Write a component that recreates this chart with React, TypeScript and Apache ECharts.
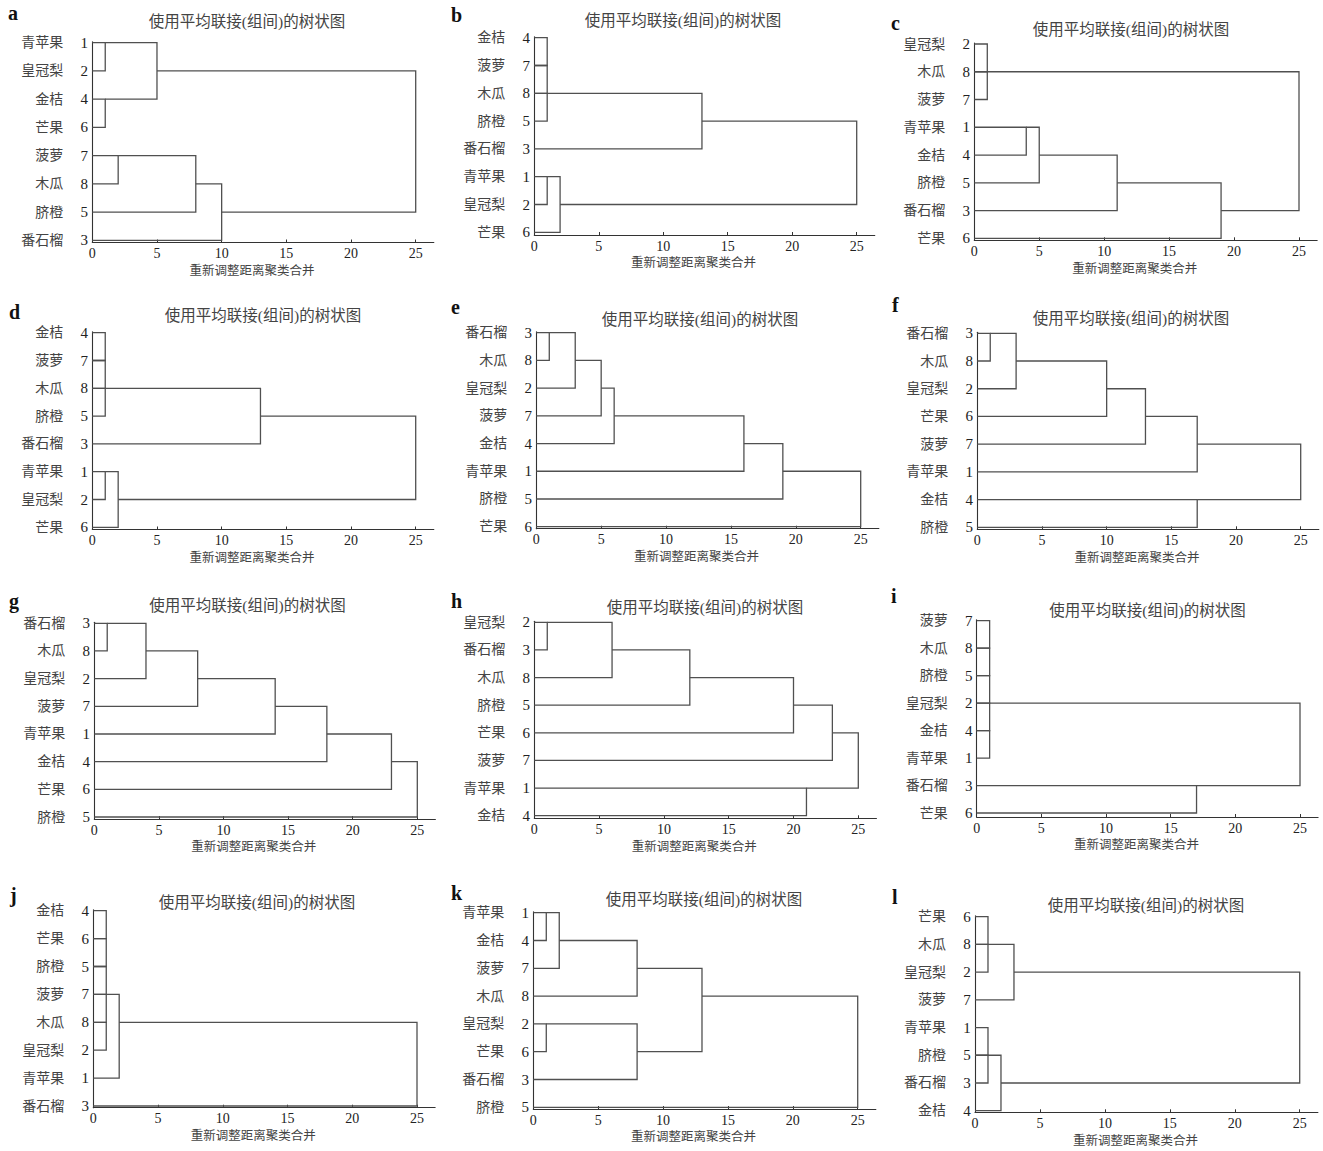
import React, { useEffect, useRef } from "react";
import * as echarts from "echarts";

// fruit names by sample number
const FRUIT: Record<number, string> = {
  1: "青苹果",
  2: "皇冠梨",
  3: "番石榴",
  4: "金桔",
  5: "脐橙",
  6: "芒果",
  7: "菠萝",
  8: "木瓜",
};

const PANEL_LETTERS = ["a", "b", "c", "d", "e", "f", "g", "h", "i", "j", "k", "l"];
const TITLE = "使用平均联接(组间)的树状图";
const X_NAME = "重新调整距离聚类合并";
const X_TICKS = [0, 5, 10, 15, 20, 25];
const ROW_TICKS = [0, 1, 2, 3, 4, 5, 6, 7];

// leaf order (sample numbers, top to bottom) per panel
const ORDER_A = [1, 2, 4, 6, 7, 8, 5, 3];
const ORDER_B = [4, 7, 8, 5, 3, 1, 2, 6];
const ORDER_C = [2, 8, 7, 1, 4, 5, 3, 6];
const ORDER_D = [4, 7, 8, 5, 3, 1, 2, 6];
const ORDER_E = [3, 8, 2, 7, 4, 1, 5, 6];
const ORDER_F = [3, 8, 2, 6, 7, 1, 4, 5];
const ORDER_G = [3, 8, 2, 7, 1, 4, 6, 5];
const ORDER_H = [2, 3, 8, 5, 6, 7, 1, 4];
const ORDER_I = [7, 8, 5, 2, 4, 1, 3, 6];
const ORDER_J = [4, 6, 5, 7, 8, 2, 1, 3];
const ORDER_K = [1, 4, 7, 8, 2, 6, 3, 5];
const ORDER_L = [6, 8, 2, 7, 1, 5, 3, 4];

// merges: [startX of upper child, upper row, merge distance, lower row, startX of lower child]
const MERGE_A = [[0, 0, 1, 1, 0], [0, 2, 1, 3, 0], [1, 0, 5, 2, 1], [0, 4, 2, 5, 0], [2, 4, 8, 6, 0], [8, 5, 10, 7, 0], [5, 1, 25, 6, 10]];
const MERGE_B = [[0, 0, 1, 1, 0], [0, 1, 1, 2, 0], [0, 2, 1, 3, 0], [1, 2, 13, 4, 0], [0, 5, 1, 6, 0], [1, 5, 2, 7, 0], [13, 3, 25, 6, 2]];
const MERGE_C = [[0, 0, 1, 1, 0], [0, 1, 1, 2, 0], [0, 3, 4, 4, 0], [4, 3, 5, 5, 0], [5, 4, 11, 6, 0], [11, 5, 19, 7, 0], [1, 1, 25, 6, 19]];
const MERGE_D = [[0, 0, 1, 1, 0], [0, 1, 1, 2, 0], [0, 2, 1, 3, 0], [1, 2, 13, 4, 0], [0, 5, 1, 6, 0], [1, 5, 2, 7, 0], [13, 3, 25, 6, 2]];
const MERGE_E = [[0, 0, 1, 1, 0], [1, 0, 3, 2, 0], [3, 1, 5, 3, 0], [5, 2, 6, 4, 0], [6, 3, 16, 5, 0], [16, 4, 19, 6, 0], [19, 5, 25, 7, 0]];
const MERGE_F = [[0, 0, 1, 1, 0], [1, 0, 3, 2, 0], [3, 1, 10, 3, 0], [10, 2, 13, 4, 0], [13, 3, 17, 5, 0], [0, 6, 17, 7, 0], [17, 4, 25, 6, 17]];
const MERGE_G = [[0, 0, 1, 1, 0], [1, 0, 4, 2, 0], [4, 1, 8, 3, 0], [8, 2, 14, 4, 0], [14, 3, 18, 5, 0], [18, 4, 23, 6, 0], [23, 5, 25, 7, 0]];
const MERGE_H = [[0, 0, 1, 1, 0], [1, 0, 6, 2, 0], [6, 1, 12, 3, 0], [12, 2, 20, 4, 0], [20, 3, 23, 5, 0], [0, 6, 21, 7, 0], [23, 4, 25, 6, 21]];
const MERGE_I = [[0, 0, 1, 1, 0], [0, 1, 1, 2, 0], [0, 2, 1, 3, 0], [0, 3, 1, 4, 0], [0, 4, 1, 5, 0], [0, 6, 17, 7, 0], [1, 3, 25, 6, 17]];
const MERGE_J = [[0, 0, 1, 1, 0], [0, 1, 1, 2, 0], [0, 2, 1, 3, 0], [0, 3, 1, 4, 0], [0, 4, 1, 5, 0], [1, 3, 2, 6, 0], [2, 4, 25, 7, 0]];
const MERGE_K = [[0, 0, 1, 1, 0], [1, 0, 2, 2, 0], [2, 1, 8, 3, 0], [0, 4, 1, 5, 0], [1, 4, 8, 6, 0], [8, 2, 13, 5, 8], [13, 3, 25, 7, 0]];
const MERGE_L = [[0, 0, 1, 1, 0], [0, 1, 1, 2, 0], [1, 1, 3, 3, 0], [0, 4, 1, 5, 0], [0, 5, 1, 6, 0], [1, 5, 2, 7, 0], [3, 2, 25, 6, 2]];

const ORDERS = [ORDER_A, ORDER_B, ORDER_C, ORDER_D, ORDER_E, ORDER_F, ORDER_G, ORDER_H, ORDER_I, ORDER_J, ORDER_K, ORDER_L];
const MERGES = [MERGE_A, MERGE_B, MERGE_C, MERGE_D, MERGE_E, MERGE_F, MERGE_G, MERGE_H, MERGE_I, MERGE_J, MERGE_K, MERGE_L];

// layout (pixels): x of 0, x of 25, y of first row, y of last row, y of x axis, title centre, letter position
const LAYOUT = [
  { x0: 92.3, x25: 415.7, r0: 42.7, r7: 240.3, ax: 242.5, tx: 247, ty: 21, lx: 8, ly: 13 },
  { x0: 534.3, x25: 856.7, r0: 37.7, r7: 232.3, ax: 235, tx: 683, ty: 20, lx: 451, ly: 15 },
  { x0: 974.3, x25: 1299, r0: 44, r7: 238.3, ax: 240.3, tx: 1131, ty: 29, lx: 891, ly: 23 },
  { x0: 92.3, x25: 415.7, r0: 332.7, r7: 527.3, ax: 529.5, tx: 263, ty: 315.7, lx: 9, ly: 312 },
  { x0: 536.3, x25: 860.7, r0: 332.7, r7: 526.7, ax: 528.7, tx: 700, ty: 319, lx: 451, ly: 307 },
  { x0: 977.3, x25: 1300.7, r0: 333.3, r7: 527.3, ax: 529.3, tx: 1131, ty: 318, lx: 892, ly: 305 },
  { x0: 94.3, x25: 417.3, r0: 623.3, r7: 817, ax: 819, tx: 247.5, ty: 605.7, lx: 9, ly: 601 },
  { x0: 534.3, x25: 858.3, r0: 622.3, r7: 815.7, ax: 818.3, tx: 705, ty: 607.3, lx: 451, ly: 601 },
  { x0: 976.7, x25: 1300, r0: 620.7, r7: 813, ax: 817, tx: 1147.5, ty: 610, lx: 891, ly: 596 },
  { x0: 93.3, x25: 417, r0: 910.7, r7: 1106, ax: 1107.7, tx: 257, ty: 902, lx: 10, ly: 895 },
  { x0: 533.3, x25: 857.7, r0: 912.7, r7: 1107.3, ax: 1109, tx: 704, ty: 899, lx: 451, ly: 893 },
  { x0: 975, x25: 1299.7, r0: 916.7, r7: 1110.7, ax: 1112.3, tx: 1146, ty: 905, lx: 892, ly: 897 },
];

const X_MAX = 26.4;
const SERIF = "'Liberation Serif', 'Noto Sans CJK SC', serif";
const LINE_COLOR = "#505050";

function buildOption() {
  const grid: any[] = [];
  const xAxis: any[] = [];
  const yAxis: any[] = [];
  const series: any[] = [];
  const graphic: any[] = [];

  LAYOUT.forEach((L, i) => {
    const width = ((L.x25 - L.x0) * X_MAX) / 25;
    const rowStep = (L.r7 - L.r0) / 7;
    const yMax = 7 + (L.ax - L.r7) / rowStep;
    grid.push({ left: L.x0, top: L.r0 - 1, width, height: L.ax - L.r0 + 1, containLabel: false });
    const order = ORDERS[i];
    xAxis.push({
      type: "value",
      gridIndex: i,
      position: "bottom",
      min: 0,
      max: X_MAX,
      name: X_NAME,
      nameLocation: "middle",
      nameGap: 22,
      nameTextStyle: { fontFamily: SERIF, fontSize: 12.5, color: "#444", padding: [0, 22, 0, 0] },
      axisLine: { show: true, onZero: false, lineStyle: { color: "#333", width: 1.1 } },
      axisTick: { show: true, inside: true, length: 3, customValues: X_TICKS, lineStyle: { color: "#333" } },
      axisLabel: { customValues: X_TICKS, margin: 4, fontFamily: SERIF, fontSize: 14, color: "#222" },
      splitLine: { show: false },
    });
    yAxis.push({
      type: "value",
      gridIndex: i,
      position: "left",
      inverse: true,
      min: -1 / rowStep,
      max: yMax,
      axisLine: { show: true, onZero: false, lineStyle: { color: "#333", width: 1.1 } },
      axisTick: { show: false },
      splitLine: { show: false },
      axisLabel: {
        customValues: ROW_TICKS,
        margin: 3,
        formatter: (v: number) => {
          const n = order[Math.round(v)];
          return `{n|${FRUIT[n]}}{d|${n}}`;
        },
        rich: {
          n: { fontFamily: SERIF, fontSize: 14, color: "#444", padding: [0, 16, 0, 0] },
          d: { fontFamily: SERIF, fontSize: 15, color: "#222", width: 10, align: "center" },
        },
      },
    });
    series.push({
      type: "lines",
      coordinateSystem: "cartesian2d",
      xAxisIndex: i,
      yAxisIndex: i,
      polyline: true,
      silent: true,
      lineStyle: { color: LINE_COLOR, width: 1.3, opacity: 1 },
      data: MERGES[i].map((m) => ({
        coords: [
          [m[0], m[1]],
          [m[2], m[1]],
          [m[2], m[3]],
          [m[4], m[3]],
        ],
      })),
    });
    graphic.push({
      type: "text",
      x: L.tx,
      y: L.ty,
      style: {
        text: TITLE,
        fontFamily: SERIF,
        fontSize: 15.5,
        fill: "#444",
        align: "center",
        verticalAlign: "middle",
      },
    });
    graphic.push({
      type: "text",
      x: L.lx,
      y: L.ly,
      style: {
        text: PANEL_LETTERS[i],
        fontFamily: SERIF,
        fontSize: 20,
        fontWeight: "bold",
        fill: "#111",
        align: "left",
        verticalAlign: "middle",
      },
    });
  });

  return {
    animation: false,
    backgroundColor: "#ffffff",
    grid,
    xAxis,
    yAxis,
    series,
    graphic,
  };
}

export default function App() {
  const ref = useRef<HTMLDivElement>(null);
  useEffect(() => {
    if (!ref.current) return;
    const chart = echarts.init(ref.current, undefined, { renderer: "svg" });
    chart.setOption(buildOption() as any);
    return () => chart.dispose();
  }, []);
  return (
    <div
      ref={ref}
      style={{ position: "absolute", left: 0, top: 0, width: 1323, height: 1151, background: "#fff" }}
    />
  );
}
